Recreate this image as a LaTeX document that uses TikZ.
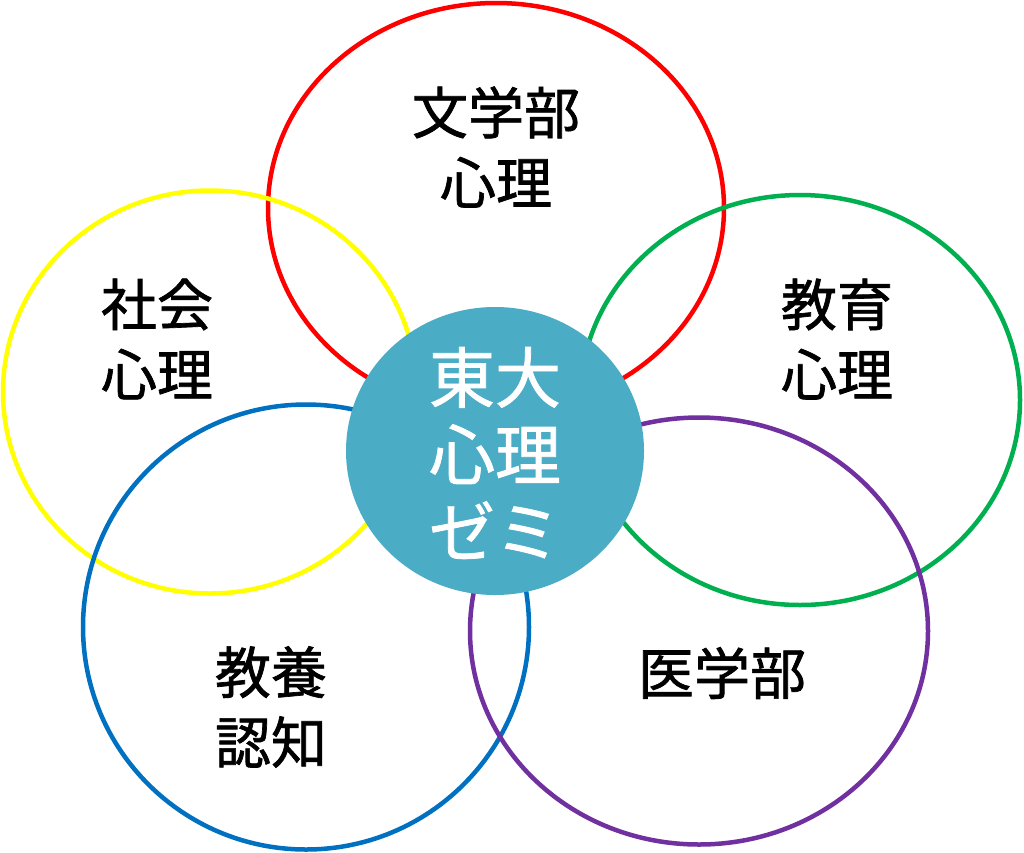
\documentclass[tikz,border=0pt]{standalone}
\usepackage{fontspec}
\setmainfont{Noto Sans CJK JP}
\newfontfamily\lblfont[FakeBold=1.2]{Noto Sans CJK JP}
\usetikzlibrary{shapes.geometric}
\definecolor{cred}{HTML}{FF0000}
\definecolor{cyellow}{HTML}{FFFF00}
\definecolor{cgreen}{HTML}{00B050}
\definecolor{cblue}{HTML}{0070C0}
\definecolor{cpurple}{HTML}{7030A0}
\definecolor{ccenter}{HTML}{4BACC6}
\begin{document}
\begin{tikzpicture}[x=1pt,y=-1pt,
  ring/.style={ellipse, draw=#1, line width=4.5pt, inner sep=0pt, outer sep=0pt},
  lbl/.style={font=\lblfont\fontsize{56}{70}\selectfont, align=center, inner sep=0pt, text=black},
  hub/.style={ellipse, fill=ccenter, inner sep=0pt, outer sep=0pt},
  hubtext/.style={font=\lblfont\fontsize{66}{77}\selectfont, align=center, inner sep=0pt, text=white}]
\fill[white] (0,0) rectangle (1024,852);
\useasboundingbox (0,0) rectangle (1024,852);
% rings
\node[ring=cred, minimum width=456pt, minimum height=410pt] (bungaku) at (496,208) {};
\node[ring=cyellow, minimum width=414pt, minimum height=403pt] (shakai) at (210,392) {};
\node[ring=cgreen, minimum width=440pt, minimum height=410pt] (kyoiku) at (800,400) {};
\node[ring=cblue, minimum width=446pt, minimum height=445pt] (kyoyo) at (306,627) {};
\node[ring=cpurple, minimum width=458pt, minimum height=427pt] (igaku) at (699,631) {};
% hub
\node[hub, minimum width=298pt, minimum height=288pt] (todai) at (495,451) {};
% labels
\node[lbl] (tbungaku) at (496,147) {文学部\\心理};
\node[lbl] (tshakai) at (157,339) {社会\\心理};
\node[lbl] (tkyoiku) at (837,339) {教育\\心理};
\node[lbl] (tkyoyo) at (271,707) {教養\\認知};
\node[lbl] (tigaku) at (722,673) {医学部};
\node[hubtext] (ttodai) at (495,453) {東大\\心理\\ゼミ};
\end{tikzpicture}
\end{document}
